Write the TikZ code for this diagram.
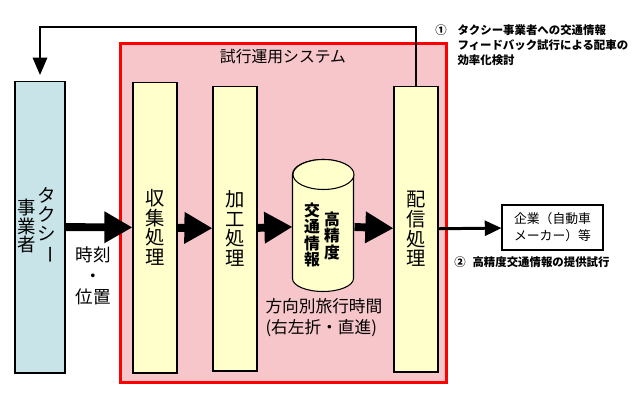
\documentclass[tikz,border=0pt]{standalone}
\usepackage{fontspec}
\setmainfont{Noto Sans CJK JP}
\usepackage{xcolor}
\usepackage{tikz}
\usetikzlibrary{arrows.meta, positioning}

\definecolor{procyellow}{RGB}{255,255,204}
\definecolor{taxiblue}{RGB}{200,228,232}
\definecolor{syspink}{RGB}{246,198,202}

\begin{document}
\begin{tikzpicture}[
    x=0.02cm, y=-0.02cm,
    every path/.style={line width=0.6pt},
    sysbox/.style={
        draw=red,
        line width=1.7pt,
        fill=syspink,
        minimum width=6.54cm,
        minimum height=6.8cm,
        inner sep=0pt
    },
    procbox/.style={
        draw,
        fill=procyellow,
        minimum width=0.88cm,
        inner sep=0pt,
        align=center,
        font=\fontsize{11}{11.2}\selectfont
    },
    taxibox/.style={
        draw,
        fill=taxiblue,
        minimum width=1.0cm,
        minimum height=5.84cm,
        inner sep=0pt
    },
    dbshape/.style={
        minimum width=1.22cm,
        minimum height=2.64cm,
        inner sep=0pt
    },
    outbox/.style={
        draw,
        fill=white,
        minimum width=2.02cm,
        minimum height=0.9cm,
        inner sep=0pt,
        align=left,
        font=\fontsize{7.3}{9.6}\selectfont
    },
    vtext/.style={
        align=center,
        inner sep=0pt,
        font=\fontsize{10.5}{10.7}\selectfont
    },
    boldv/.style={
        align=center,
        inner sep=0pt,
        font=\fontsize{9}{9.2}\selectfont\bfseries
    },
    label/.style={
        inner sep=0pt,
        font=\fontsize{9.5}{12}\selectfont
    },
    note/.style={
        inner sep=0pt,
        font=\fontsize{6.5}{8.5}\selectfont\bfseries
    },
    title/.style={
        inner sep=0pt,
        font=\fontsize{9}{9}\selectfont
    },
    bigarrow/.style={line width=4.5pt, -{Triangle[length=16pt, width=17pt]}},
    thinarrow/.style={line width=1.7pt, -{Triangle[length=9.5pt, width=8.5pt]}},
    fbarrow/.style={line width=1.7pt, -{Triangle[length=10pt, width=8pt]}, shorten >=3pt}
]
\useasboundingbox (0,0) rectangle (640,400);

% ==================== 試行運用システム ====================
\node[sysbox] (sys) at (283.5,213) {};
\node[title] (systitle) at (283,57) {試行運用システム};

\node[procbox, minimum height=5.82cm] (shushu)  at (155,227.5) {収\\集\\処\\理};
\node[procbox, minimum height=5.70cm] (kakou)   at (235,228.5) {加\\工\\処\\理};
\node[procbox, minimum height=5.72cm] (haishin) at (416,229) {配\\信\\処\\理};

% database cylinder
\node[dbshape] (db) at (323.5,226) {};
\draw[fill=procyellow] (db.north west) ++(0,15) -- ++(0,104)
    arc[start angle=180, end angle=0, x radius=30.5, y radius=13] -- ++(0,-104)
    arc[start angle=0, end angle=-180, x radius=30.5, y radius=15] -- cycle;
\draw[fill=procyellow] (db.north) ++(0,15) ellipse [x radius=30.5, y radius=15];
\node[boldv] (dbL) at (312,235) {交\\通\\情\\報};
\node[boldv] (dbR) at (332,236) {高\\精\\度};

\node[label, align=left, anchor=north west] (houkou) at (265,298)
{方向別旅行時間\\(右左折・直進)};

% ==================== タクシー事業者 ====================
\node[taxibox] (taxi) at (40,227) {};
\node[vtext] (taxiL) at (27,226) {事\\業\\者};
\node[vtext] (taxiR) at (47,226) {タ\\ク\\シ\\\rotatebox[origin=c]{-90}{ー}};

\node[label, align=center, font=\fontsize{10}{12}\selectfont] (jikoku) at (93,276)
{時刻\\・\\位置};

% ==================== 提供先 ====================
\node[outbox] (kigyo) at (552.5,227.5) {企業（自動車\\メーカー）等};

\node[note] (n1mark) at (441,30) {①};
\node[note, align=left, anchor=north west] (n1) at (457,24)
{タクシー事業者への交通情報\\フィードバック試行による配車の\\効率化検討};
\node[note] (n2mark) at (460,262) {②};
\node[note, anchor=west] (n2) at (472,262) {高精度交通情報の提供試行};

% ==================== arrows ====================
\draw[bigarrow] (taxi) -- (shushu);
\draw[bigarrow] (shushu) -- (kakou);
\draw[bigarrow] (kakou) -- (db);
\draw[bigarrow] (db) -- (haishin);
\draw[thinarrow] (haishin) -- (kigyo);

\coordinate (fbtop) at (415,27);
\draw[fbarrow] (haishin.north) -- (haishin.north |- fbtop) -| (taxi.north);

\end{tikzpicture}
\end{document}
